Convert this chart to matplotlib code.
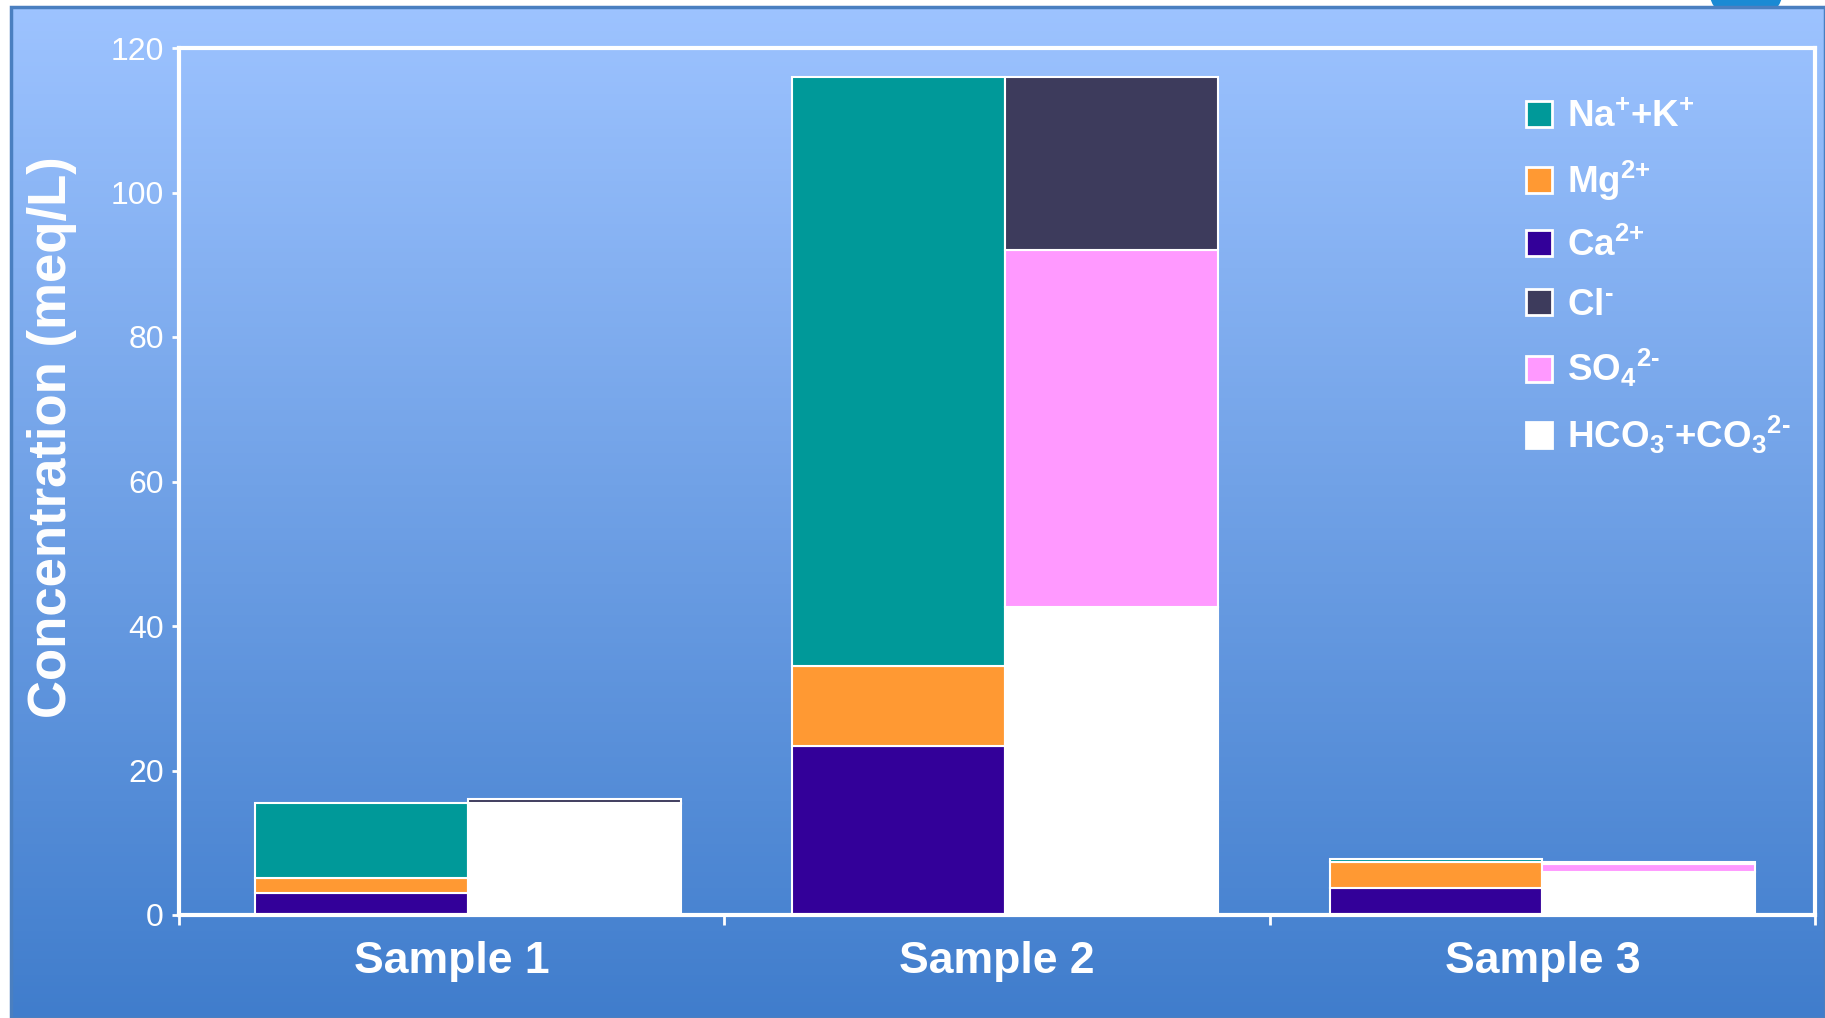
import numpy as np
import matplotlib.pyplot as plt
from matplotlib.patches import Patch, Rectangle, Ellipse

plt.rcParams['font.family'] = ['Liberation Sans', 'DejaVu Sans']
plt.rcParams['mathtext.fontset'] = 'custom'
plt.rcParams['mathtext.rm'] = 'Liberation Sans:bold'
plt.rcParams['mathtext.bf'] = 'Liberation Sans:bold'
plt.rcParams['mathtext.it'] = 'Liberation Sans:bold'

# samples and ion concentrations (meq/L)
samples = ["Sample 1", "Sample 2", "Sample 3"]
na_k = [10.4, 81.5, 0.3]
mg = [2.1, 11.1, 3.6]
ca = [3.0, 23.4, 3.8]
cl = [0.45, 24.0, 0.3]
so4 = [0.25, 49.4, 1.1]
hco3_co3 = [15.3, 42.6, 5.9]

labels = [r"Na$^{\text{+}}$+K$^{\text{+}}$", r"Mg$^{\text{2+}}$", r"Ca$^{\text{2+}}$",
          r"Cl$^{\text{-}}$", r"SO$_{\text{4}}$$^{\text{2-}}$",
          r"HCO$_{\text{3}}$$^{\text{-}}$+CO$_{\text{3}}$$^{\text{2-}}$"]
colors = ["#009999", "#FF9933", "#330099", "#3D3B5C", "#FF99FF", "#FFFFFF"]

W, H = 1825, 1018
fig = plt.figure(figsize=(W / 100, H / 100), dpi=100)
fig.patch.set_facecolor("white")

# blue badge peeking above the panel
fig.patches.append(Ellipse((1746 / W, 1 + 14 / H), 76 / W, 76 / H, transform=fig.transFigure,
                           facecolor="#1A8AD4", edgecolor="none", zorder=-2))

# gradient panel behind the chart
bg = fig.add_axes([11 / W, 0, 1 - 11 / W, 1 - 7 / H], zorder=-1)
top = np.array([157, 195, 255]) / 255
bot = np.array([64, 125, 204]) / 255
t = np.linspace(0, 1, 256)[:, None]
grad = (top * (1 - t) + bot * t)[:, None, :]
bg.imshow(grad, aspect="auto", extent=[0, 1, 0, 1])
bg.set_axis_off()
bg.add_patch(Rectangle((0, 0), 1, 1, transform=bg.transAxes, fill=False,
                       edgecolor="#4A7FC0", linewidth=2.5, clip_on=False))

ax = fig.add_axes([179 / W, 1 - 915 / H, (1815 - 179) / W, (915 - 48) / H])
ax.patch.set_alpha(0)

x = np.arange(len(samples)) * 0.985 + 0.03
bw = 0.39
edge = dict(edgecolor="white", linewidth=1.5)

# cations on the left
left = x - bw / 2
ax.bar(left, ca, bw, color=colors[2], **edge)
ax.bar(left, mg, bw, bottom=ca, color=colors[1], **edge)
ax.bar(left, na_k, bw, bottom=np.add(ca, mg), color=colors[0], **edge)
# anions on the right
right = x + bw / 2
ax.bar(right, hco3_co3, bw, color=colors[5], **edge)
ax.bar(right, so4, bw, bottom=hco3_co3, color=colors[4], **edge)
ax.bar(right, cl, bw, bottom=np.add(hco3_co3, so4), color=colors[3], **edge)

ax.set_xlim(-0.5, 2.5)
ax.set_ylim(0, 120)
ax.set_yticks(range(0, 121, 20))
ax.set_xticks(range(len(samples)))
ax.set_xticklabels(samples, fontsize=32, fontweight="bold", color="white")
ax.set_xticks([-0.5, 0.5, 1.5, 2.5], minor=True)
ax.tick_params(axis="x", which="major", length=0, pad=19)
ax.tick_params(axis="x", which="minor", length=7, width=2, color="white")
ax.tick_params(axis="y", length=5, width=2, color="white", labelcolor="white",
               labelsize=23, pad=6)
for s in ax.spines.values():
    s.set_color("white")
    s.set_linewidth(3)

fig.text(52 / W, 1 - 437 / H, "Concentration (meq/L)", rotation=90, ha="center",
         va="center", fontsize=38, fontweight="bold", color="white")

handles = [Patch(facecolor=c, edgecolor="white", linewidth=2) for c in colors]
leg = ax.legend(handles, labels, loc="upper left", bbox_to_anchor=(1511 / W, 1 - 85 / H),
                bbox_transform=fig.transFigure, frameon=False, fontsize=26.5,
                handlelength=0.72, handleheight=0.72, handletextpad=0.4,
                labelspacing=0.66, borderaxespad=0)
for txt in leg.get_texts():
    txt.set_color("white")
    txt.set_fontweight("bold")

fig.savefig("out.png", dpi=100)
